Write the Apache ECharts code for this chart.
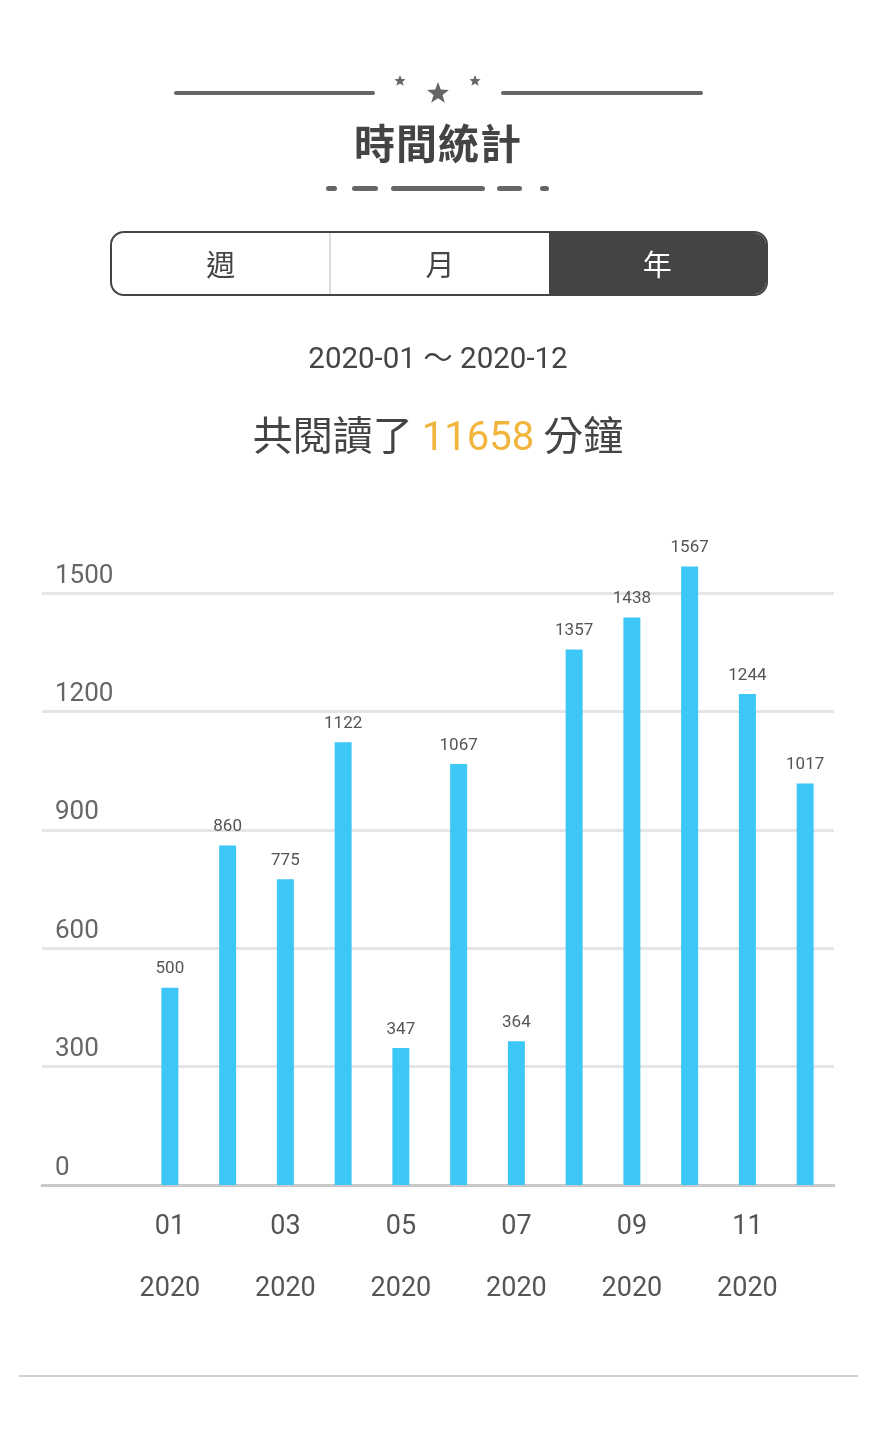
<!DOCTYPE html>
<html>
<head>
<meta charset="utf-8">
<script src="https://cdn.jsdelivr.net/npm/echarts@6/dist/echarts.min.js"></script>
<style>
  html, body { margin:0; padding:0; width:876px; height:1440px; background:#fff; overflow:hidden; }
  body { font-family: Roboto, "Noto Sans CJK TC", sans-serif; color:#444; position:relative; }
  #chart { position:absolute; left:0; top:0; width:876px; height:1440px; }
  .abs { position:absolute; }
  .bar { position:absolute; background:#666; border-radius:3px; }
  #title { left:0; width:876px; top:112px; text-align:center; font-family:"Noto Sans CJK TC"; font-weight:700; font-size:41px; line-height:58px; color:#444; letter-spacing:1px; }
  #toggle { left:110px; top:231px; width:654px; height:61px; border:2px solid #444; border-radius:14px; overflow:hidden; display:flex; }
  #toggle div { flex:1; text-align:center; line-height:61px; font-family:"Noto Sans CJK TC"; font-size:29px; color:#444; }
  #toggle .sep { border-right:2px solid #ddd; }
  #toggle .on { background:#444; color:#fff; }
  #range { left:0; width:876px; top:338px; text-align:center; font-size:29.5px; line-height:40px; color:#444; }
  #total { left:0; width:876px; top:406px; text-align:center; font-family:"Noto Sans CJK TC"; font-size:40px; line-height:54px; color:#444; }
  #total .num { color:#F2B53C; font-family: Roboto, sans-serif; }
  #bottomline { left:19px; width:839px; top:1375px; height:2px; background:#d0d0d0; }
</style>
</head>
<body>
<div id="chart"></div>
<div class="bar" style="left:174px; top:91px; width:201px; height:4px;"></div>
<div class="bar" style="left:501px; top:91px; width:202px; height:4px;"></div>
<svg class="abs" style="left:0; top:0;" width="876" height="120">
  <polygon fill="#666" points="400,75 401.6,79 405.7,79.2 402.5,81.8 403.6,85.8 400,83.5 396.4,85.8 397.5,81.8 394.3,79.2 398.4,79"/>
  <polygon fill="#666" points="438,82 440.8,89.6 448.9,89.9 442.5,94.9 444.8,102.7 438,98.2 431.2,102.7 433.5,94.9 427.1,89.9 435.2,89.6"/>
  <polygon fill="#666" points="475,75 476.6,79 480.7,79.2 477.5,81.8 478.6,85.8 475,83.5 471.4,85.8 472.5,81.8 469.3,79.2 473.4,79"/>
</svg>
<div id="title" class="abs">時間統計</div>
<div class="bar" style="left:326px; top:186px; width:11px; height:5px;"></div>
<div class="bar" style="left:352px; top:186px; width:26px; height:5px;"></div>
<div class="bar" style="left:391px; top:186px; width:94px; height:5px;"></div>
<div class="bar" style="left:497px; top:186px; width:25px; height:5px;"></div>
<div class="bar" style="left:540px; top:186px; width:9px; height:5px;"></div>
<div id="toggle" class="abs"><div class="sep">週</div><div>月</div><div class="on">年</div></div>
<div id="range" class="abs">2020-01 ～ 2020-12</div>
<div id="total" class="abs">共閱讀了 <span class="num">11658</span> 分鐘</div>
<div id="bottomline" class="abs"></div>
<script>
// ---- data ----
const months = ['01','02','03','04','05','06','07','08','09','10','11','12'];
const years  = ['2020','2020','2020','2020','2020','2020','2020','2020','2020','2020','2020','2020'];
const minutes = [500, 860, 775, 1122, 347, 1067, 364, 1357, 1438, 1567, 1244, 1017];
const yTicks = [0, 300, 600, 900, 1200, 1500];

const categories = months.map((m, i) => m + '\n' + years[i]);
const chart = echarts.init(document.getElementById('chart'), null, { renderer: 'canvas' });
const yMin = yTicks[0], yMax = yTicks[yTicks.length - 1], yStep = yTicks[1] - yTicks[0];

// plot geometry: baseline y=1185, 1500 line at y=593
const baseY = 1185, gridH = 592;
const pxPerUnit = gridH / (yMax - yMin);
const barMax = 1800;               // headroom so the tallest bar is not clipped
const barGridH = (barMax - yMin) * pxPerUnit;

chart.setOption({
  animation: false,
  grid: [
    { left: 42, right: 42, top: baseY - gridH, height: gridH },
    { left: 141, right: 42, top: baseY - barGridH, height: barGridH }
  ],
  xAxis: [
    { gridIndex: 0, type: 'category', data: [''],
      axisLine: { show: true, lineStyle: { color: '#c9c9c9', width: 3 } },
      axisTick: { show: false }, axisLabel: { show: false }, splitLine: { show: false } },
    { gridIndex: 1, type: 'category', data: categories,
      axisLine: { show: false }, axisTick: { show: false },
      axisLabel: { interval: 1, margin: 11, fontSize: 27, lineHeight: 62, color: '#555',
                   fontFamily: 'Roboto, sans-serif' } }
  ],
  yAxis: [
    { gridIndex: 0, type: 'value', min: yMin, max: yMax, interval: yStep,
      axisLine: { show: false }, axisTick: { show: false },
      axisLabel: { inside: true, margin: 13, fontSize: 26, color: '#666', verticalAlign: 'bottom',
                   padding: [0, 0, 4, 0], fontFamily: 'Roboto, sans-serif',
                   formatter: v => String(v) },
      splitLine: { show: true, lineStyle: { color: '#e5e5e5', width: 3 } } },
    { gridIndex: 1, type: 'value', min: yMin, max: barMax, show: false, splitLine: { show: false } }
  ],
  series: [{
    type: 'bar', xAxisIndex: 1, yAxisIndex: 1, data: minutes, barWidth: 17,
    itemStyle: { color: '#3dc7f6' },
    label: { show: true, position: 'top', distance: 10, fontSize: 17, color: '#555',
             fontFamily: 'Roboto, sans-serif' }
  }]
});
</script>
</body>
</html>
